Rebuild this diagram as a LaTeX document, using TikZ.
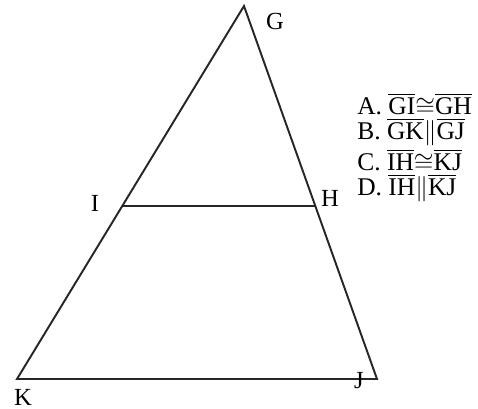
\documentclass[tikz,border=0pt]{standalone}
\usepackage{amsmath, amssymb}
\usepackage{fontspec}
\setmainfont{Liberation Serif}
\usepackage{tikz}
\usetikzlibrary{positioning}

\tikzset{
  vlabel/.style={inner sep=0pt, font=\fontsize{14}{16}\selectfont},
  opt/.style={anchor=west, inner sep=0pt, font=\fontsize{14.5}{16}\selectfont},
  seg/.style={line width=1.1pt, black!85}
}
\newcommand{\segm}[1]{\overline{\text{#1}}}

\begin{document}
\begin{tikzpicture}[x=0.02cm, y=-0.02cm]
  \useasboundingbox (0,0) rectangle (478,409);

  % Vertices of the triangle
  \coordinate (g) at (244,6);
  \coordinate (k) at (17,379);
  \coordinate (j) at (377,379);
  \coordinate (i) at (123,206);
  \coordinate (h) at (315,206);

  % Triangle and midsegment
  \draw[seg, line join=miter] (g) -- (k) -- (j) -- cycle;
  \draw[seg] (i) -- (h);

  % Vertex labels
  \node[vlabel] (lg) at (275,21) {G};
  \node[vlabel] (li) at (95,203) {I};
  \node[vlabel] (lh) at (330,198) {H};
  \node[vlabel] (lk) at (23,397) {K};
  \node[vlabel] (lj) at (359,381) {J};

  % Answer choices
  \node[opt] (oa) at (357,104) {A. $\segm{GI}{\cong}\segm{GH}$};
  \node[opt] (ob) at (357,132) {B. $\segm{GK}{\|}\segm{GJ}$};
  \node[opt] (oc) at (357,160) {C. $\segm{IH}{\cong}\segm{KJ}$};
  \node[opt] (od) at (357,188) {D. $\segm{IH}{\|}\segm{KJ}$};
\end{tikzpicture}
\end{document}
